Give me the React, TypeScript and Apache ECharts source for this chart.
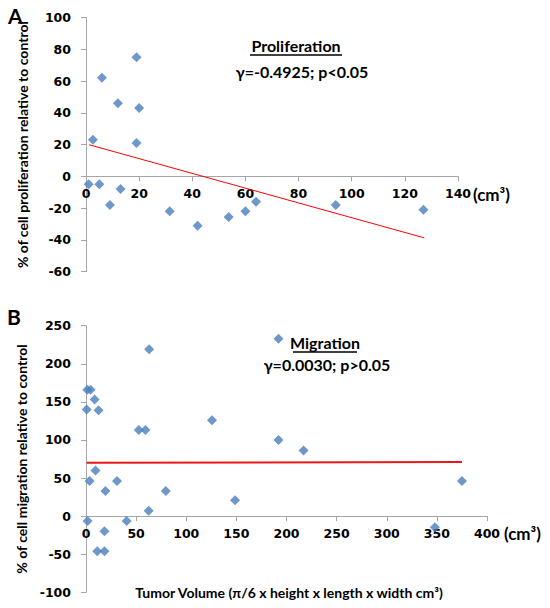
import React, { useEffect, useRef } from "react";
import * as echarts from "echarts";

const profPoints: [number, number][] = [
  [1, -5], [2.6, 23], [5, -5], [6, 62], [9, -18], [12, 46], [13, -8],
  [19, 75], [20, 43], [19, 21], [31.5, -22], [42, -31], [53.7, -25.5],
  [60, -22], [64, -16], [94, -18], [127, -21],
];
const profTrend: [number, number][] = [[1.2, 19.9], [127.3, -38.7]];

const migPoints: [number, number][] = [
  [1.3, 166], [4.6, 166], [0.7, 140], [8.6, 153], [12.5, 139], [63, 219],
  [52.6, 113], [59.2, 113], [125.7, 126], [9.5, 60], [3.6, 46], [19.4, 33],
  [30.9, 46], [79.6, 33], [62.5, 7], [148.7, 21], [1.6, -6.5], [40.5, -6.5],
  [18.4, -20], [11.2, -46], [18.4, -46], [192, 233], [192, 100], [217, 86],
  [375, 46], [348, -14.5],
];
const migTrend: [number, number][] = [[0.7, 70], [375, 71]];

const FONT = "Lato, 'Open Sans', sans-serif";
const TICK_FONT = "'DejaVu Sans', Verdana, sans-serif";
const AXIS_COLOR = "#a6a6a6";
const MARK = "#4a7ebb";

const G1 = { left: 86, top: 17.5, width: 372, height: 254.2 };
const G2 = { left: 86, top: 325.7, width: 401, height: 266.6 };
const Y1 = { min: -60, max: 100, interval: 20 };
const Y2 = { min: -100, max: 250, interval: 50 };

export default function App() {
  const ref = useRef<HTMLDivElement>(null);
  useEffect(() => {
    document.body.style.margin = "0";
    const chart = echarts.init(ref.current!, undefined, { renderer: "svg" });
    const labelStyle = { color: "#000", fontWeight: "bold" as const, fontSize: 12.5, fontFamily: TICK_FONT };
    const zeroOffset = (g: { height: number }, y: { min: number; max: number }) =>
      -g.height * (0 - y.min) / (y.max - y.min);
    const xAxisBase = {
      type: "value" as const,
      position: "bottom" as const,
      axisLine: { onZero: false, lineStyle: { color: AXIS_COLOR, width: 1 } },
      axisTick: { show: true, length: 5, lineStyle: { color: AXIS_COLOR } },
      splitLine: { show: false },
      axisLabel: { ...labelStyle, margin: 11 },
    };
    const yAxisBase = {
      type: "value" as const,
      axisLine: { show: true, onZero: false, lineStyle: { color: AXIS_COLOR, width: 1 } },
      axisTick: { show: true, length: 5, lineStyle: { color: AXIS_COLOR } },
      splitLine: { show: false },
      axisLabel: { ...labelStyle, margin: 15 },
      nameLocation: "middle" as const,
      nameRotate: 90,
      nameGap: 57,
      nameTextStyle: { color: "#000", fontWeight: "bold" as const, fontSize: 14, fontFamily: FONT },
    };
    const textStyle = (fs: number) => ({ fill: "#000", fontWeight: "bold", fontSize: fs, fontFamily: FONT });
    chart.setOption({
      animation: false,
      grid: [G1, G2],
      xAxis: [
        { ...xAxisBase, gridIndex: 0, min: 0, max: 140, interval: 20, offset: zeroOffset(G1, Y1) },
        { ...xAxisBase, gridIndex: 1, min: 0, max: 400, interval: 50, offset: zeroOffset(G2, Y2) },
      ],
      yAxis: [
        { ...yAxisBase, gridIndex: 0, ...Y1, name: "% of cell proliferation relative to control" },
        { ...yAxisBase, gridIndex: 1, ...Y2, name: "% of cell migration relative to control" },
      ],
      series: [
        {
          type: "line", xAxisIndex: 0, yAxisIndex: 0, data: profTrend, symbol: "none",
          lineStyle: { color: "#ff0000", width: 1 }, z: 1,
        },
        {
          type: "scatter", xAxisIndex: 0, yAxisIndex: 0, data: profPoints, symbol: "diamond",
          symbolSize: 10, itemStyle: { color: MARK }, z: 2,
        },
        {
          type: "line", xAxisIndex: 1, yAxisIndex: 1, data: migTrend, symbol: "none",
          lineStyle: { color: "#e81818", width: 2 }, z: 1,
        },
        {
          type: "scatter", xAxisIndex: 1, yAxisIndex: 1, data: migPoints, symbol: "diamond",
          symbolSize: 10, itemStyle: { color: MARK }, z: 2,
        },
      ],
      graphic: [
        { type: "text", left: 8, top: 5, style: { ...textStyle(21), text: "A" } },
        { type: "text", left: 7, top: 306, style: { ...textStyle(21), text: "B" } },
        { type: "text", x: 296, y: 45, style: { ...textStyle(16), text: "Proliferation", align: "center", verticalAlign: "middle" } },
        { type: "line", shape: { x1: 250, y1: 55, x2: 342, y2: 55 }, style: { stroke: "#000", lineWidth: 1.3 } },
        { type: "text", x: 302, y: 71, style: { ...textStyle(16), text: "γ=-0.4925; p<0.05", align: "center", verticalAlign: "middle" } },
        { type: "text", x: 325, y: 342, style: { ...textStyle(16), text: "Migration", align: "center", verticalAlign: "middle" } },
        { type: "line", shape: { x1: 293, y1: 352, x2: 357, y2: 352 }, style: { stroke: "#000", lineWidth: 1.3 } },
        { type: "text", x: 327, y: 364, style: { ...textStyle(16), text: "γ=0.0030; p>0.05", align: "center", verticalAlign: "middle" } },
        { type: "text", x: 473, y: 194, style: { ...textStyle(17), text: "(cm³)", verticalAlign: "middle" } },
        { type: "text", x: 504, y: 533, style: { ...textStyle(17), text: "(cm³)", verticalAlign: "middle" } },
        { type: "text", x: 289, y: 592, style: { ...textStyle(14), text: "Tumor Volume (π/6 x height x length x width cm³)", align: "center", verticalAlign: "middle" } },
      ],
    });
    return () => chart.dispose();
  }, []);
  return <div ref={ref} style={{ width: 550, height: 608 }} />;
}
